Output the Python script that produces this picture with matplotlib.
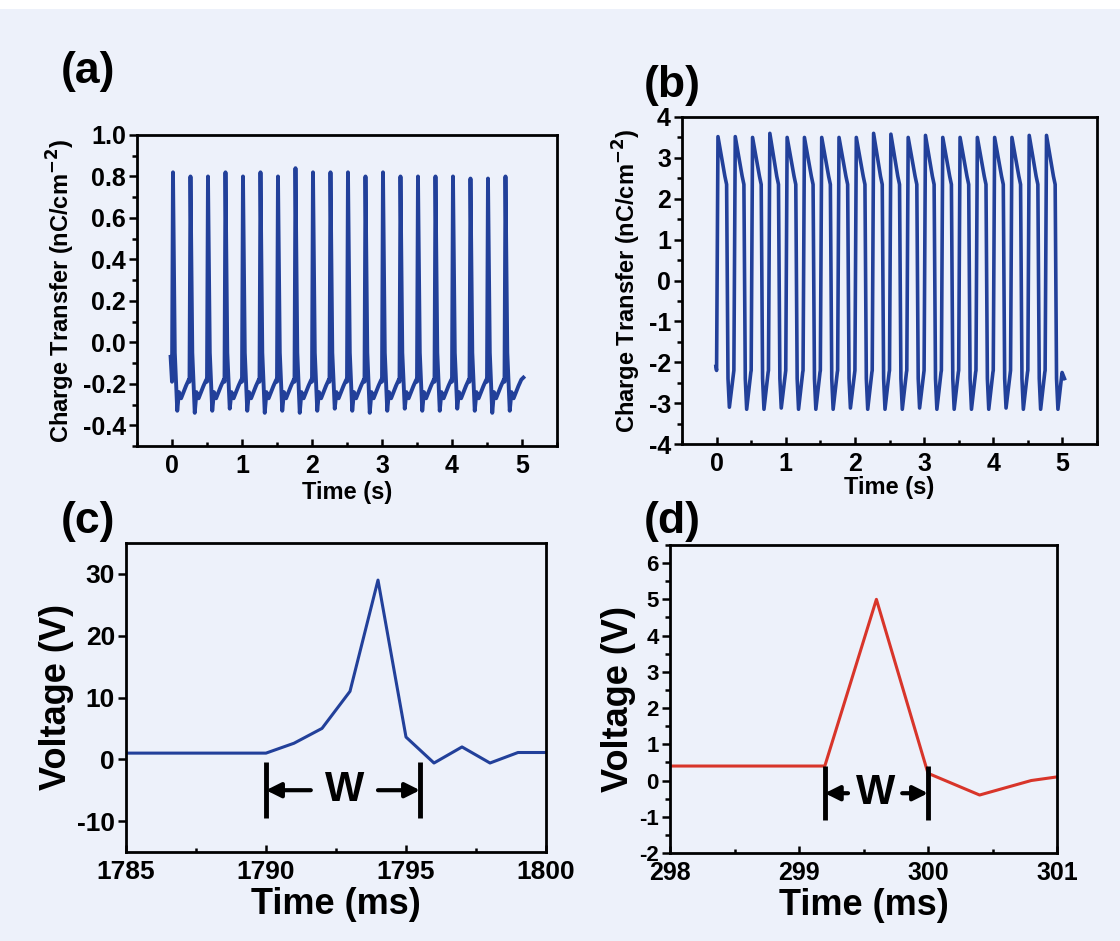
import matplotlib
matplotlib.use('Agg')
import matplotlib.pyplot as plt
from matplotlib.ticker import MultipleLocator
from matplotlib.patches import Rectangle

plt.rcParams['font.family'] = ['Liberation Sans', 'DejaVu Sans']
plt.rcParams['font.weight'] = 'bold'
plt.rcParams['axes.labelweight'] = 'bold'
plt.rcParams['mathtext.default'] = 'bf'
plt.rcParams['axes.unicode_minus'] = False

# (a) charge transfer, non-poled film: one spike per press
a_rise_t = [0.00, 0.25, 0.50, 0.75, 1.00, 1.25, 1.50, 1.75, 2.00, 2.25,
            2.50, 2.75, 3.00, 3.25, 3.50, 3.75, 4.00, 4.25, 4.50, 4.75]
a_peak = [0.82, 0.80, 0.80, 0.82, 0.80, 0.82, 0.80, 0.84, 0.82, 0.82,
          0.82, 0.80, 0.82, 0.80, 0.80, 0.80, 0.80, 0.79, 0.79, 0.80]
a_min = [-0.33, -0.34, -0.33, -0.32, -0.33, -0.34, -0.33, -0.34, -0.33, -0.32,
         -0.33, -0.34, -0.33, -0.32, -0.33, -0.33, -0.32, -0.33, -0.34, -0.33]
# shape of one cycle (time after rise, value)
a_cycle_dt = [0.0, 0.014, 0.04, 0.075, 0.10, 0.13, 0.20, 0.24]
a_cycle_v = [-0.19, 'peak', -0.05, 'min', -0.24, -0.27, -0.21, -0.18]
a_start = (-0.02, -0.07)
a_end = (5.02, -0.17)

# (b) charge transfer, poled film
b_rise_t = [0.00, 0.25, 0.50, 0.75, 1.00, 1.25, 1.50, 1.75, 2.00, 2.25,
            2.50, 2.75, 3.00, 3.25, 3.50, 3.75, 4.00, 4.25, 4.50, 4.75]
b_peak = [3.52, 3.52, 3.50, 3.60, 3.50, 3.50, 3.50, 3.50, 3.50, 3.60,
          3.58, 3.50, 3.55, 3.50, 3.50, 3.50, 3.50, 3.50, 3.55, 3.55]
b_min = [-3.10, -3.15, -3.15, -3.12, -3.15, -3.15, -3.15, -3.12, -3.15, -3.15,
         -3.15, -3.12, -3.15, -3.15, -3.15, -3.15, -3.12, -3.15, -3.15, -3.15]
b_cycle_dt = [0.0, 0.02, 0.12, 0.145, 0.165, 0.185, 0.245]
b_cycle_v = [-2.2, 'peak', 2.55, 2.35, -2.4, 'min', -2.25]
b_start = (-0.01, -2.1)
b_end = (5.03, -2.4)

# (c) single voltage pulse, ms
c_t = [1785, 1786, 1787, 1788, 1789, 1790, 1791, 1792, 1793, 1794,
       1795, 1796, 1797, 1798, 1799, 1800]
c_v = [1.0, 1.0, 1.0, 1.0, 1.0, 1.0, 2.6, 5.0, 11.0, 29.0,
       3.6, -0.6, 2.0, -0.6, 1.1, 1.1]
c_w = (1790.0, 1795.5)

# (d) single voltage pulse, ms
d_t = [298.0, 298.4, 298.8, 299.2, 299.6, 300.0, 300.4, 300.8, 301.0]
d_v = [0.4, 0.4, 0.4, 0.4, 5.0, 0.2, -0.4, 0.0, 0.1]
d_w = (299.2, 300.0)

navy = '#22409a'
red = '#d8352a'
paper = '#edf1fa'


def build_trace(rise_t, peaks, mins, dt, vals, start, end):
    ts, vs = [start[0]], [start[1]]
    for t0, pk, mn in zip(rise_t, peaks, mins):
        for d, v in zip(dt, vals):
            ts.append(t0 + d)
            vs.append(pk if v == 'peak' else mn if v == 'min' else v)
    ts.append(end[0])
    vs.append(end[1])
    return ts, vs


def style(ax, xfs, yfs):
    for s in ax.spines.values():
        s.set_linewidth(2)
    ax.tick_params(axis='y', which='both', direction='out', width=1.8, labelsize=yfs, pad=2)
    ax.tick_params(axis='y', which='major', length=6)
    ax.tick_params(axis='y', which='minor', length=3.5)
    ax.tick_params(axis='x', which='both', direction='in', width=1.8, labelsize=xfs, pad=6)
    ax.tick_params(axis='x', which='major', length=5)
    ax.tick_params(axis='x', which='minor', length=3)
    ax.set_facecolor(paper)


W, H = 1120, 941


def px_axes(fig, l, t, r, b):
    return fig.add_axes([l / W, 1 - b / H, (r - l) / W, (b - t) / H])


fig = plt.figure(figsize=(11.2, 9.41), dpi=100, facecolor=paper)
fig.patches.append(Rectangle((0, 1 - 9 / H), 1, 9 / H, transform=fig.transFigure,
                             facecolor='white', edgecolor='none'))

# (a)
ax = px_axes(fig, 137, 135, 557, 446)
ts, vs = build_trace(a_rise_t, a_peak, a_min, a_cycle_dt, a_cycle_v, a_start, a_end)
ax.plot(ts, vs, color=navy, lw=2.8)
ax.set_xlim(-0.5, 5.5)
ax.set_ylim(-0.5, 1.0)
ax.xaxis.set_major_locator(MultipleLocator(1))
ax.xaxis.set_minor_locator(MultipleLocator(0.5))
ax.yaxis.set_major_locator(MultipleLocator(0.2))
ax.yaxis.set_minor_locator(MultipleLocator(0.1))
ax.yaxis.set_major_formatter(lambda v, p: '%.1f' % v)
style(ax, 18, 18)
ax.set_xlabel('Time (s)', fontsize=17, labelpad=2)
ax.set_ylabel('Charge Transfer (nC/cm$^{-2}$)', fontsize=17, labelpad=4)

# (b)
ax = px_axes(fig, 682, 117, 1097, 444)
ts, vs = build_trace(b_rise_t, b_peak, b_min, b_cycle_dt, b_cycle_v, b_start, b_end)
ax.plot(ts, vs, color=navy, lw=2.6)
ax.set_xlim(-0.5, 5.5)
ax.set_ylim(-4, 4)
ax.xaxis.set_major_locator(MultipleLocator(1))
ax.xaxis.set_minor_locator(MultipleLocator(0.5))
ax.yaxis.set_major_locator(MultipleLocator(1))
ax.yaxis.set_minor_locator(MultipleLocator(0.5))
style(ax, 18, 18)
ax.set_xlabel('Time (s)', fontsize=17, labelpad=0)
ax.set_ylabel('Charge Transfer (nC/cm$^{-2}$)', fontsize=17, labelpad=4)

arrow = dict(arrowstyle='-|>', lw=3, color='k', mutation_scale=22, shrinkA=0, shrinkB=0)

# (c)
ax = px_axes(fig, 126, 543, 546, 852)
ax.plot(c_t, c_v, color=navy, lw=2.2)
ax.set_xlim(1785, 1800)
ax.set_ylim(-15, 35)
ax.set_xticks([1785, 1790, 1795, 1800])
ax.xaxis.set_minor_locator(MultipleLocator(2.5))
ax.set_yticks([-10, 0, 10, 20, 30])
style(ax, 19, 19)
ax.set_xlabel('Time (ms)', fontsize=26, labelpad=2)
ax.set_ylabel('Voltage (V)', fontsize=26, labelpad=2)
ax.vlines(c_w, -9.5, -0.5, colors='k', lw=3.5)
ax.annotate('', xy=(c_w[0], -5), xytext=(1791.6, -5), arrowprops=arrow)
ax.annotate('', xy=(c_w[1], -5), xytext=(1794.0, -5), arrowprops=arrow)
ax.text(1792.8, -5, 'W', ha='center', va='center', fontsize=30, fontweight='bold')

# (d)
ax = px_axes(fig, 670, 545, 1057, 853)
ax.plot(d_t, d_v, color=red, lw=2.2)
ax.set_xlim(298, 301)
ax.set_ylim(-2, 6.5)
ax.xaxis.set_major_locator(MultipleLocator(1))
ax.xaxis.set_minor_locator(MultipleLocator(0.5))
ax.yaxis.set_major_locator(MultipleLocator(1))
ax.yaxis.set_minor_locator(MultipleLocator(0.5))
style(ax, 18, 16)
ax.set_xlabel('Time (ms)', fontsize=26, labelpad=2)
ax.set_ylabel('Voltage (V)', fontsize=26, labelpad=2)
ax.vlines(d_w, -1.1, 0.4, colors='k', lw=3.5)
ax.annotate('', xy=(d_w[0], -0.35), xytext=(299.38, -0.35), arrowprops=arrow)
ax.annotate('', xy=(d_w[1], -0.35), xytext=(299.8, -0.35), arrowprops=arrow)
ax.text(299.59, -0.35, 'W', ha='center', va='center', fontsize=30, fontweight='bold')

for lab, x, y in [('(a)', 88, 72), ('(b)', 672, 85), ('(c)', 88, 522), ('(d)', 672, 522)]:
    fig.text(x / W, 1 - y / H, lab, fontsize=32, fontweight='bold', ha='center', va='center')

fig.savefig('out.png', dpi=100, facecolor=paper)
